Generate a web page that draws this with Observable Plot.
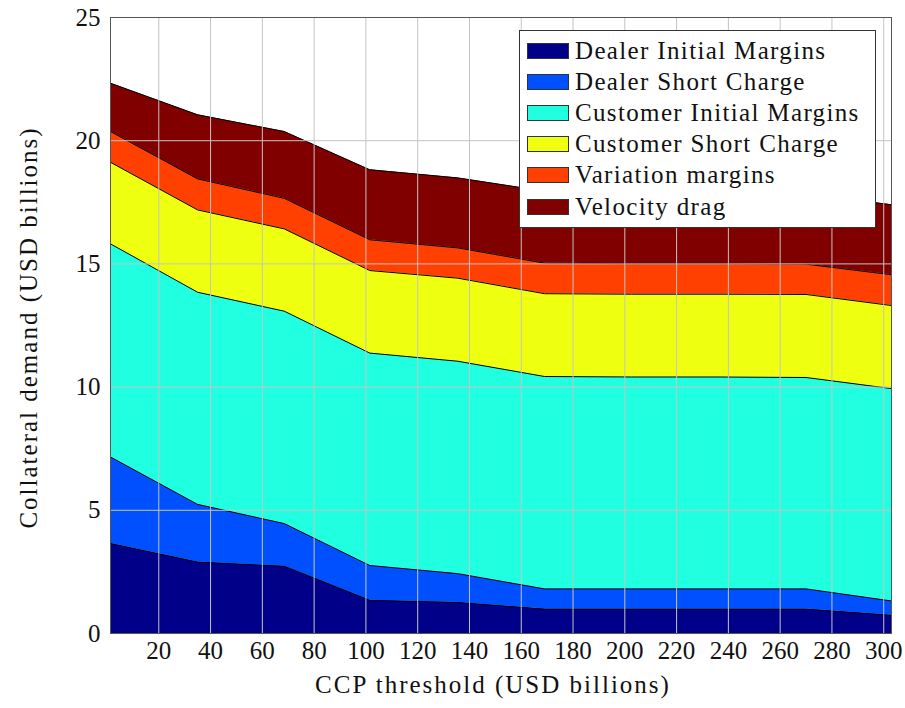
<!DOCTYPE html>
<html>
<head>
<meta charset="utf-8">
<script src="https://cdn.jsdelivr.net/npm/d3@7"></script>
<script src="https://cdn.jsdelivr.net/npm/@observablehq/plot@0.6"></script>
<style>
  html, body { margin: 0; padding: 0; background: #fff; }
  #wrap { position: relative; width: 905px; height: 708px; font-family: "Liberation Serif", serif; }
  #wrap svg g[aria-label="text"] text { letter-spacing: 2px; }
  #legend { position: absolute; left: 519px; top: 30px; width: 357px; height: 198px; border: 1px solid #333; background: #fff; box-sizing: border-box; }
  .row { position: absolute; left: 7px; height: 31px; display: flex; align-items: center; font-size: 25px; letter-spacing: 1.35px; color: #111; white-space: nowrap; }
  .sw { width: 40px; height: 14px; border: 1px solid #333; margin-right: 6px; flex: none; }
</style>
</head>
<body>
<div id="wrap"></div>
<script>
const xs = [1.4, 35, 68.5, 101.5, 135.5, 169, 202.5, 236, 270, 303];
const seriesNames = ["Dealer Initial Margins", "Dealer Short Charge", "Customer Initial Margins", "Customer Short Charge", "Variation margins", "Velocity drag"];
const dealerIM   = [3.65, 2.90, 2.73, 1.35, 1.26, 0.99, 0.99, 0.99, 0.99, 0.74];
const dealerSC   = [3.51, 2.34, 1.73, 1.41, 1.17, 0.82, 0.82, 0.82, 0.82, 0.58];
const customerIM = [8.65, 8.61, 8.62, 8.62, 8.62, 8.62, 8.60, 8.60, 8.58, 8.62];
const customerSC = [3.31, 3.34, 3.34, 3.35, 3.37, 3.36, 3.36, 3.36, 3.37, 3.37];
const variationM = [1.25, 1.26, 1.24, 1.25, 1.23, 1.24, 1.24, 1.24, 1.23, 1.25];
const velocityD  = [1.96, 2.60, 2.71, 2.84, 2.84, 2.92, 2.90, 2.88, 2.84, 2.84];
const colors = ["#000088", "#0050ff", "#20ffe0", "#efff10", "#ff4000", "#800000"];
const xTicks = [20, 40, 60, 80, 100, 120, 140, 160, 180, 200, 220, 240, 260, 280, 300];
const yTicks = [0, 5, 10, 15, 20, 25];
const xLabel = "CCP threshold (USD billions)";
const yLabel = "Collateral demand (USD billions)";

const seriesValues = [dealerIM, dealerSC, customerIM, customerSC, variationM, velocityD];
const data = [];
seriesNames.forEach((s, i) => xs.forEach((x, j) => data.push({series: s, x, value: seriesValues[i][j]})));

const chart = Plot.plot({
  width: 905,
  height: 708,
  marginLeft: 110,
  marginRight: 14,
  marginTop: 17,
  marginBottom: 75,
  style: {fontFamily: "Liberation Serif, serif", fontSize: "25px", color: "#111", background: "#fff"},
  x: {domain: [1.35, 303], ticks: xTicks},
  y: {domain: [0, 25], ticks: yTicks},
  color: {domain: seriesNames, range: colors},
  marks: [
    Plot.areaY(data, Plot.stackY({x: "x", y: "value", z: "series", fill: "series", order: seriesNames})),
    Plot.lineY(data, Plot.stackY2({x: "x", y: "value", z: "series", order: seriesNames, stroke: "#000", strokeWidth: 1})),
    Plot.gridX(xTicks, {stroke: "#c4c4c4", strokeOpacity: 1, strokeWidth: 1}),
    Plot.gridY(yTicks, {stroke: "#c4c4c4", strokeOpacity: 1, strokeWidth: 1}),
    Plot.frame({stroke: "#555", strokeWidth: 1}),
    Plot.axisX(xTicks, {tickSize: 0, tickPadding: 8, label: null}),
    Plot.axisY(yTicks, {tickSize: 0, tickPadding: 10, label: null}),
    Plot.text([xLabel], {frameAnchor: "bottom", textAnchor: "middle", lineAnchor: "middle", dy: 51, dx: -8, text: d => d}),
    Plot.text([yLabel], {frameAnchor: "left", textAnchor: "middle", lineAnchor: "middle", dx: -82, dy: 2, rotate: -90, text: d => d})
  ]
});
const wrap = document.getElementById("wrap");
wrap.appendChild(chart);

const legend = document.createElement("div");
legend.id = "legend";
seriesNames.forEach((s, i) => {
  const row = document.createElement("div");
  row.className = "row";
  row.style.top = (4 + i * 31.2) + "px";
  const sw = document.createElement("div");
  sw.className = "sw";
  sw.style.background = colors[i];
  row.appendChild(sw);
  const t = document.createElement("span");
  t.textContent = s;
  row.appendChild(t);
  legend.appendChild(row);
});
wrap.appendChild(legend);
</script>
</body>
</html>
